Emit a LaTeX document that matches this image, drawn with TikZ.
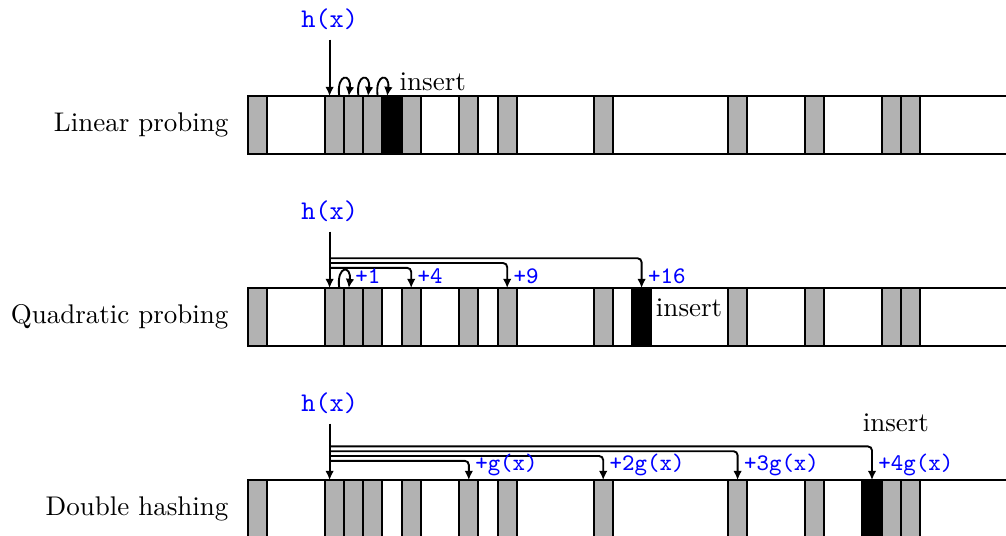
\documentclass[tikz,border=0pt]{standalone}
\usepackage{fontspec}
\usetikzlibrary{arrows.meta}
\begin{document}
\begin{tikzpicture}[x=0.25cm,y=0.25cm,
  line width=0.7pt,
  cellbox/.style={draw=black,fill=black!30,anchor=north west,minimum width=0.25cm,minimum height=0.75cm,inner sep=0pt,outer sep=0pt},
  insbox/.style={cellbox,fill=black},
  arr/.style={-{Latex[length=3.4pt,width=3.2pt]}},
  branch/.style={arr,rounded corners=1.5pt},
  hxlabel/.style={text=blue,font=\ttfamily},
  offlabel/.style={text=blue,font=\ttfamily\fontsize{8.8}{10}\selectfont,anchor=south west,inner sep=1.2pt},
  rowlabel/.style={anchor=east},
  inslabel/.style={anchor=base west,inner sep=0pt},
]
\clip (-12.917,0) rectangle (39.479,-27.865);

% tables
\foreach \r/\T/\b in {1/-5/7, 2/-15/20, 3/-25/32} {
  \draw (40,\T) -- (0,\T) -- (0,\T-3) -- (40,\T-3);
  \foreach \i in {0,4,5,6,8,11,13,18,25,29,33,34}
    \node[cellbox] (c\r-\i) at (\i,\T) {};
  \node[insbox] (c\r-\b) at (\b,\T) {};
}

% row labels
\node[rowlabel] (l1) at (-0.5,-6.5) {Linear probing};
\node[rowlabel] (l2) at (-0.5,-16.5) {Quadratic probing};
\node[rowlabel] (l3) at (-0.5,-26.5) {Double hashing};

% ---- Linear probing
\node[hxlabel] (h1) at (4.25,-1) {h(x)};
\coordinate (t1) at ([xshift=-0.625mm]c1-4.north);
\draw[arr] (h1.south) -- (t1);
\foreach \a/\b in {4/5,5/6,6/7}
  \draw[arr] ([xshift=0.625mm]c1-\a.north) .. controls +(-0.15,1.2) and +(0.15,1.2) .. ([xshift=-0.625mm]c1-\b.north);
\node[inslabel] (i1) at (7.85,-4.69) {insert};

% ---- Quadratic probing
\node[hxlabel] (h2) at (4.25,-11) {h(x)};
\coordinate (t2) at ([xshift=-0.625mm]c2-4.north);
\draw[arr] (h2.south) -- (t2);
\draw[arr] ([xshift=0.625mm]c2-4.north) .. controls +(-0.15,1.2) and +(0.15,1.2) .. ([xshift=-0.625mm]c2-5.north);
\coordinate (q4) at (4.25,-13.95);
\coordinate (q9) at (4.25,-13.7);
\coordinate (q16) at (4.25,-13.45);
\draw[branch] (q4) -| (c2-8.north);
\draw[branch] (q9) -| (c2-13.north);
\draw[branch] (q16) -| (c2-20.north);
\node[offlabel] (o21) at ([xshift=-0.325mm]c2-5.north) {+1};
\node[offlabel] (o24) at ([xshift=0.3mm]c2-8.north) {+4};
\node[offlabel] (o29) at ([xshift=0.3mm]c2-13.north) {+9};
\node[offlabel] (o216) at ([xshift=0.3mm]c2-20.north) {+16};
\node[inslabel] (i2) at (21.2,-16.5) {insert};

% ---- Double hashing
\node[hxlabel] (h3) at (4.25,-21) {h(x)};
\coordinate (t3) at ([xshift=-0.625mm]c3-4.north);
\draw[arr] (h3.south) -- (t3);
\coordinate (d1) at (4.25,-24);
\coordinate (d2) at (4.25,-23.75);
\coordinate (d3) at (4.25,-23.5);
\coordinate (d4) at (4.25,-23.25);
\draw[branch] (d1) -| (c3-11.north);
\draw[branch] (d2) -| (c3-18.north);
\draw[branch] (d3) -| (c3-25.north);
\draw[branch] (d4) -| (c3-32.north);
\node[offlabel] (o31) at ([xshift=0.3mm]c3-11.north) {+g(x)};
\node[offlabel] (o32) at ([xshift=0.3mm]c3-18.north) {+2g(x)};
\node[offlabel] (o33) at ([xshift=0.3mm]c3-25.north) {+3g(x)};
\node[offlabel] (o34) at ([xshift=0.3mm]c3-32.north) {+4g(x)};
\node[inslabel] (i3) at (31.97,-22.48) {insert};
\end{tikzpicture}
\end{document}
